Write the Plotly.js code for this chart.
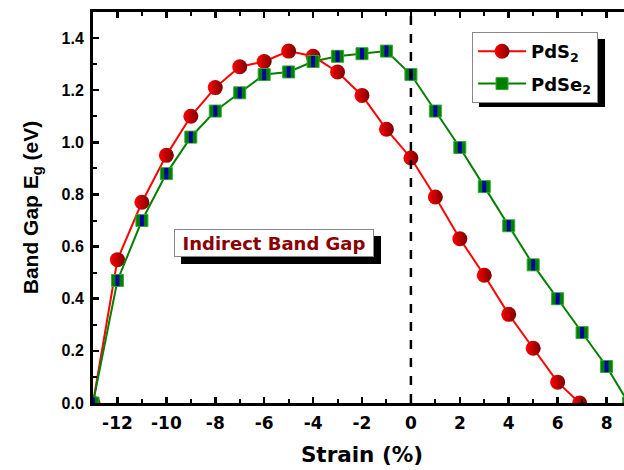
<!DOCTYPE html>
<html><head><meta charset="utf-8">
<script src="https://cdn.plot.ly/plotly-3.0.1.min.js"></script>
<style>html,body{margin:0;padding:0;overflow:hidden;width:624px;height:470px;background:#fff}</style>
</head><body><div id="chart"></div>
<script>
const strainS = [-13, -12, -11, -10, -9, -8, -7, -6, -5, -4, -3, -2, -1, 0, 1, 2, 3, 4, 5, 6, 6.9];
const gapS    = [0.0, 0.55, 0.77, 0.95, 1.10, 1.21, 1.29, 1.31, 1.35, 1.33, 1.27, 1.18, 1.05, 0.94, 0.79, 0.63, 0.49, 0.34, 0.21, 0.08, 0.0];
const strainSe = [-13, -12, -11, -10, -9, -8, -7, -6, -5, -4, -3, -2, -1, 0, 1, 2, 3, 4, 5, 6, 7, 8, 8.9];
const gapSe    = [0.0, 0.47, 0.70, 0.88, 1.02, 1.12, 1.19, 1.26, 1.27, 1.31, 1.33, 1.34, 1.35, 1.26, 1.12, 0.98, 0.83, 0.68, 0.53, 0.40, 0.27, 0.14, 0.0];
const xTickVals = [-12, -10, -8, -6, -4, -2, 0, 2, 4, 6, 8];
const xTickText = ['-12', '-10', '-8', '-6', '-4', '-2', '0', '2', '4', '6', '8'];
const yTickVals = [0, 0.2, 0.4, 0.6, 0.8, 1.0, 1.2, 1.4];
const yTickText = ['0.0', '0.2', '0.4', '0.6', '0.8', '1.0', '1.2', '1.4'];
const seriesNames = ['<b>PdS<sub>2</sub></b>', '<b>PdSe<sub>2</sub></b>'];
const refStrain = 0;
const noteText = '<b>Indirect Band Gap</b>';
const xTitle = '<b>Strain (%)</b>';
const yTitle = '<b>Band Gap E<sub>g</sub> (eV)</b>';

const ARIAL = 'Liberation Sans, Arial, sans-serif';
const WIDE = 'DejaVu Sans, sans-serif';
const bold = a => a.map(t => '<b>' + t + '</b>');

const traces = [
  {x: strainS, y: gapS, name: seriesNames[0], legendgroup: 'a', mode: 'lines+markers',
   line: {color: '#ff0000', width: 2},
   marker: {symbol: 'circle', size: 15, color: '#ff0000', line: {width: 0},
            gradient: {type: 'horizontal', color: '#7a0000'}}},
  {x: strainSe, y: gapSe, name: seriesNames[1], legendgroup: 'b', mode: 'lines+markers',
   line: {color: '#008000', width: 2},
   marker: {symbol: 'square', size: 12, color: '#008000', line: {color: '#33aa33', width: 1}}},
  {x: strainSe, y: gapSe, mode: 'markers', showlegend: false, hoverinfo: 'skip', legendgroup: 'b',
   marker: {symbol: 'line-ns', size: 8, line: {color: '#0000aa', width: 4}}}
];

const axisCommon = {
  showline: true, linecolor: '#000', linewidth: 3, mirror: 'allticks',
  ticks: 'inside', ticklen: 6, tickwidth: 2.5, tickcolor: '#000',
  showgrid: false, zeroline: false
};

const layout = {
  width: 641, height: 470,
  margin: {l: 93, r: 10, t: 12, b: 67},
  paper_bgcolor: '#fff', plot_bgcolor: '#fff',
  font: {family: ARIAL},
  xaxis: Object.assign({}, axisCommon, {
    range: [-13, 9], tickmode: 'array', tickvals: xTickVals, ticktext: bold(xTickText),
    tickfont: {family: WIDE, size: 17, color: '#000'},
    ticklabelstandoff: 3,
    minor: {ticks: 'inside', dtick: 1, tick0: 0, ticklen: 4, tickwidth: 2, tickcolor: '#000'},
    title: {text: xTitle, font: {family: WIDE, size: 21.5, color: '#000'}, standoff: 15}
  }),
  yaxis: Object.assign({}, axisCommon, {
    range: [0, 1.5], tickmode: 'array', tickvals: yTickVals, ticktext: bold(yTickText),
    tickfont: {family: ARIAL, size: 16, color: '#000'},
    ticklabelstandoff: 3,
    minor: {ticks: 'inside', dtick: 0.1, tick0: 0, ticklen: 4, tickwidth: 2, tickcolor: '#000'},
    title: {text: yTitle, font: {family: ARIAL, size: 21, color: '#000'}, standoff: 18}
  }),
  showlegend: true,
  legend: {x: 0.7045, y: 0.9488, xanchor: 'left', yanchor: 'top',
    bgcolor: '#fff', bordercolor: '#888', borderwidth: 1,
    font: {family: WIDE, size: 18, color: '#000'},
    tracegroupgap: 6, itemwidth: 48},
  shapes: [
    {type: 'rect', xref: 'paper', yref: 'paper', x0: 0.7175, x1: 0.9517, y0: 0.757, y1: 0.931,
     fillcolor: '#000', line: {width: 0}, layer: 'above'},
    {type: 'line', xref: 'x', yref: 'paper', x0: refStrain, x1: refStrain, y0: 0, y1: 1,
     line: {color: '#000', width: 2.5, dash: 'dash'}}
  ],
  annotations: [
    {x: -5.6, y: 0.612, xref: 'x', yref: 'y', text: noteText, showarrow: false,
     xshift: 7, yshift: -7, width: 194, height: 22,
     font: {family: WIDE, size: 18, color: '#000'},
     bgcolor: '#000', bordercolor: '#000', borderwidth: 1, borderpad: 2},
    {x: -5.6, y: 0.612, xref: 'x', yref: 'y', text: noteText, showarrow: false,
     width: 194, height: 22,
     font: {family: WIDE, size: 18, color: '#8b0000'},
     bgcolor: '#fff', bordercolor: '#888', borderwidth: 1, borderpad: 2}
  ]
};

Plotly.newPlot('chart', traces, layout, {displayModeBar: false, staticPlot: true});
</script></body></html>
